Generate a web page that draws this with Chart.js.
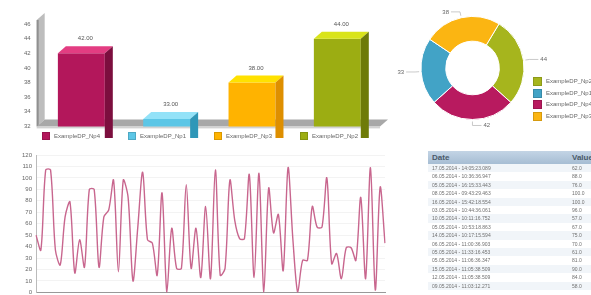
<!DOCTYPE html>
<html>
<head>
<meta charset="utf-8">
<script src="https://cdn.jsdelivr.net/npm/chart.js@4.4.1/dist/chart.umd.min.js"></script>
<style>
  html, body { margin: 0; padding: 0; background: #fff; overflow: hidden; }
  body { width: 591px; height: 295px; position: relative; font-family: "Liberation Sans", Arial, sans-serif; }
  .box { position: absolute; }
  .legend { position: absolute; font-size: 6px; color: #666; white-space: nowrap; }
  .legend span.sw { display: inline-block; width: 8px; height: 8px; vertical-align: middle; margin-right: 4px; border: 1px solid rgba(0,0,0,0.15); box-sizing: border-box; }
  table { border-collapse: collapse; font-size: 5px; color: #707070; table-layout: fixed; }
  th { background: linear-gradient(#c3d4e5, #a6bdd3); color: #4a5a6a; font-size: 8px; font-weight: bold; text-align: left; height: 13px; padding: 0 4px; }
  td { height: 8.4px; padding: 0 4px; line-height: 8.4px; overflow: hidden; white-space: nowrap; }
  tr:nth-child(even) td { background: #f1f5f9; }
</style>
</head>
<body>

<div class="box" style="left:0;top:0;width:390px;height:138px;"><canvas id="barras"></canvas></div>
<div class="legend" id="legendaBarras" style="left:42px;top:132px;"></div>

<div class="box" style="left:380px;top:0;width:185px;height:140px;"><canvas id="rosca"></canvas></div>
<div class="legend" id="legendaRosca" style="left:533px;top:77px;"></div>

<div class="box" style="left:0;top:145px;width:400px;height:155px;"><canvas id="linha"></canvas></div>

<div class="box" style="left:428px;top:151px;width:220px;">
  <table id="tabela" style="width:220px;"></table>
</div>

<script>
/* dados do grafico de barras */
var categorias = ['ExampleDP_Np4', 'ExampleDP_Np1', 'ExampleDP_Np3', 'ExampleDP_Np2'];
var valoresBarras = [42, 33, 38, 44];
var ticksBarras = [32, 34, 36, 38, 40, 42, 44, 46];

/* dados da rosca (ordem horaria a partir do verde) */
var categoriasRosca = ['ExampleDP_Np2', 'ExampleDP_Np4', 'ExampleDP_Np1', 'ExampleDP_Np3'];
var valoresRosca = [44, 42, 33, 38];
var legendaRosca = ['ExampleDP_Np2', 'ExampleDP_Np1', 'ExampleDP_Np4', 'ExampleDP_Np3'];

/* serie da linha */
var valoresLinha = [50, 37, 107, 107, 37, 24, 66, 79, 17, 46, 22, 90, 90, 22, 66, 72, 98, 18, 98, 83,
    10, 57, 105, 46, 43, 15, 87, 0, 56, 21, 21, 94, 21, 56, 13, 75,
    12, 107, 15, 21, 98, 63, 47, 47, 103, 13, 104, 0, 91, 52, 68, 19, 109, 46, 0, 28, 28, 75,
    57, 57, 100, 25, 34, 12, 39, 39, 28, 83, 12, 109, 2, 92, 43];

/* tabela */
var datasTabela = ['17.05.2014 - 14:05:23.089', '06.05.2014 - 10:36:36.947', '05.05.2014 - 16:15:33.443',
    '08.05.2014 - 09:43:29.463', '16.05.2014 - 15:42:18.554', '03.05.2014 - 10:44:36.061',
    '10.05.2014 - 10:11:16.752', '05.05.2014 - 10:53:18.863', '14.05.2014 - 10:17:15.594',
    '06.05.2014 - 11:00:36.903', '05.05.2014 - 11:33:16.453', '05.05.2014 - 11:06:36.347',
    '15.05.2014 - 11:05:38.509', '12.05.2014 - 11:05:38.509', '09.05.2014 - 11:03:12.271'];
var valoresTabela = ['62.0', '88.0', '76.0', '100.0', '100.0', '96.0', '57.0', '67.0', '75.0',
    '70.0', '61.0', '81.0', '90.0', '84.0', '58.0'];

var coresFrente = { 'ExampleDP_Np4': '#b3175b', 'ExampleDP_Np1': '#5cc6e6', 'ExampleDP_Np3': '#ffb300', 'ExampleDP_Np2': '#9cad12' };
var coresTopo = { 'ExampleDP_Np4': '#e33d82', 'ExampleDP_Np1': '#93e2f8', 'ExampleDP_Np3': '#ffe100', 'ExampleDP_Np2': '#d9e41a' };
var coresLado = { 'ExampleDP_Np4': '#7c0e3e', 'ExampleDP_Np1': '#2f97b8', 'ExampleDP_Np3': '#de8f00', 'ExampleDP_Np2': '#6e7b08' };
var coresRosca = { 'ExampleDP_Np2': '#a6b51d', 'ExampleDP_Np4': '#b81a5f', 'ExampleDP_Np1': '#42a3c6', 'ExampleDP_Np3': '#fbb512' };

var DX = 8, DY = 7;

/* parede e piso 3D + faces das barras */
var efeito3D = {
    id: 'efeito3D',
    beforeDatasetsDraw: function (chart) {
        var ctx = chart.ctx, a = chart.chartArea;
        ctx.save();
        // parede
        ctx.fillStyle = '#bdbdbd';
        ctx.beginPath();
        ctx.moveTo(a.left - 2, a.bottom);
        ctx.lineTo(a.left - 2, a.top - 4);
        ctx.lineTo(a.left - 2 + DX, a.top - 4 - DY);
        ctx.lineTo(a.left - 2 + DX, a.bottom - DY);
        ctx.closePath();
        ctx.fill();
        ctx.fillStyle = '#909090';
        ctx.fillRect(a.left - 2, a.top - 4, 2, a.bottom - a.top + 4);
        // piso
        ctx.fillStyle = '#a8a8a8';
        ctx.beginPath();
        ctx.moveTo(a.left - 2, a.bottom);
        ctx.lineTo(a.left - 2 + DX, a.bottom - DY);
        ctx.lineTo(a.right + DX, a.bottom - DY);
        ctx.lineTo(a.right, a.bottom);
        ctx.closePath();
        ctx.fill();
        ctx.fillStyle = '#d2d2d2';
        ctx.fillRect(a.left - 2, a.bottom, a.right - a.left + 2, 2);
        ctx.restore();
    },
    afterDatasetsDraw: function (chart) {
        var ctx = chart.ctx;
        var meta = chart.getDatasetMeta(0);
        ctx.save();
        meta.data.forEach(function (el, i) {
            var c = categorias[i];
            var l = el.x - el.width / 2, r = el.x + el.width / 2;
            ctx.fillStyle = coresTopo[c];
            ctx.beginPath();
            ctx.moveTo(l, el.y);
            ctx.lineTo(l + DX, el.y - DY);
            ctx.lineTo(r + DX, el.y - DY);
            ctx.lineTo(r, el.y);
            ctx.closePath();
            ctx.fill();
            ctx.fillStyle = coresLado[c];
            ctx.beginPath();
            ctx.moveTo(r, el.y);
            ctx.lineTo(r + DX, el.y - DY);
            ctx.lineTo(r + DX, el.base - DY);
            ctx.lineTo(r, el.base);
            ctx.closePath();
            ctx.fill();
            ctx.fillStyle = '#555';
            ctx.font = '6px "Liberation Sans"';
            ctx.textAlign = 'center';
            ctx.fillText(valoresBarras[i].toFixed(2), el.x + DX / 2, el.y - DY - 6);
        });
        ctx.restore();
    }
};

new Chart(document.getElementById('barras').getContext('2d'), {
    type: 'bar',
    data: {
        labels: categorias,
        datasets: [{
            label: 'Valor',
            data: valoresBarras,
            backgroundColor: categorias.map(function (c) { return coresFrente[c]; }),
            barPercentage: 0.55,
            categoryPercentage: 1
        }]
    },
    options: {
        responsive: true,
        maintainAspectRatio: false,
        animation: false,
        layout: { padding: { top: 24, left: 16, right: 10, bottom: 5 } },
        plugins: { legend: { display: false }, tooltip: { enabled: false } },
        scales: {
            x: { display: false },
            y: {
                beginAtZero: false,
                min: ticksBarras[0], max: ticksBarras[ticksBarras.length - 1],
                afterBuildTicks: function (s) { s.ticks = ticksBarras.map(function (v) { return { value: v }; }); },
                ticks: { font: { size: 6 }, color: '#666', padding: 8 },
                grid: { display: false, drawTicks: false }, border: { display: false }
            }
        }
    },
    plugins: [efeito3D]
});

/* rotulos com linha guia na rosca */
var rotulosRosca = {
    id: 'rotulosRosca',
    afterDatasetsDraw: function (chart) {
        var ctx = chart.ctx;
        ctx.save();
        ctx.strokeStyle = '#bbb';
        ctx.lineWidth = 0.8;
        ctx.fillStyle = '#666';
        ctx.font = '6px "Liberation Sans"';
        chart.getDatasetMeta(0).data.forEach(function (arc, i) {
            var ang = (arc.startAngle + arc.endAngle) / 2;
            var r0 = arc.outerRadius + 2, r1 = arc.outerRadius + 6;
            var x0 = arc.x + Math.cos(ang) * r0, y0 = arc.y + Math.sin(ang) * r0;
            var x1 = arc.x + Math.cos(ang) * r1, y1 = arc.y + Math.sin(ang) * r1;
            var lado = Math.cos(ang) >= -0.05 ? 1 : -1;
            if (Math.abs(Math.cos(ang)) < 0.2 && Math.sin(ang) > 0) lado = 1;
            if (Math.abs(Math.cos(ang)) < 0.3 && Math.sin(ang) < 0) lado = -1;
            var x2 = x1 + lado * 9;
            ctx.beginPath();
            ctx.moveTo(x0, y0);
            ctx.lineTo(x1, y1);
            ctx.lineTo(x2, y1);
            ctx.stroke();
            ctx.textAlign = lado > 0 ? 'left' : 'right';
            ctx.textBaseline = 'middle';
            ctx.fillText(String(valoresRosca[i]), x2 + lado * 2, y1);
        });
        ctx.restore();
    }
};

new Chart(document.getElementById('rosca').getContext('2d'), {
    type: 'doughnut',
    data: {
        labels: categoriasRosca,
        datasets: [{
            data: valoresRosca,
            backgroundColor: categoriasRosca.map(function (c) { return coresRosca[c]; }),
            borderColor: '#fff',
            borderWidth: 1
        }]
    },
    options: {
        responsive: true,
        maintainAspectRatio: false,
        animation: false,
        rotation: 31,
        cutout: '52%',
        layout: { padding: { left: 34, right: 34, top: 16, bottom: 20 } },
        plugins: { legend: { display: false }, tooltip: { enabled: false } }
    },
    plugins: [rotulosRosca]
});

/* legendas em html */
var lb = document.getElementById('legendaBarras');
categorias.forEach(function (c, i) {
    var s = document.createElement('span');
    s.style.display = 'inline-block';
    s.style.width = (i < 3 ? 86 : 60) + 'px';
    s.innerHTML = '<span class="sw" style="background:' + coresFrente[c] + '"></span>' + c;
    lb.appendChild(s);
});
var lr = document.getElementById('legendaRosca');
legendaRosca.forEach(function (c) {
    var d = document.createElement('div');
    d.style.height = '11.5px';
    d.innerHTML = '<span class="sw" style="width:9px;height:9px;background:' + coresRosca[c] + '"></span>' + c;
    lr.appendChild(d);
});

/* grafico de linha */
new Chart(document.getElementById('linha').getContext('2d'), {
    type: 'line',
    data: {
        labels: valoresLinha.map(function (v, i) { return i + 1; }),
        datasets: [{
            label: 'ExampleDP_Np4',
            data: valoresLinha,
            borderColor: '#c8668e',
            borderWidth: 1.4,
            pointRadius: 0,
            tension: 0.3,
            fill: false
        }]
    },
    options: {
        responsive: true,
        maintainAspectRatio: false,
        animation: false,
        layout: { padding: { top: 10, right: 15, left: 18, bottom: 2 } },
        plugins: { legend: { display: false }, tooltip: { enabled: false } },
        scales: {
            x: {
                ticks: { display: false },
                grid: { display: false, drawTicks: false },
                border: { color: '#999' }
            },
            y: {
                min: 0, max: 120,
                ticks: { stepSize: 10, font: { size: 6 }, color: '#666', padding: 4 },
                grid: { color: '#f3f3f3', drawTicks: false },
                border: { color: '#bbb' }
            }
        }
    }
});

/* tabela */
var tb = document.getElementById('tabela');
var html = '<tr><th style="width:132px;">Date</th><th style="width:80px;">Value</th></tr>';
datasTabela.forEach(function (d, i) {
    html += '<tr><td>' + d + '</td><td>' + valoresTabela[i] + '</td></tr>';
});
tb.innerHTML = html;
</script>
</body>
</html>
